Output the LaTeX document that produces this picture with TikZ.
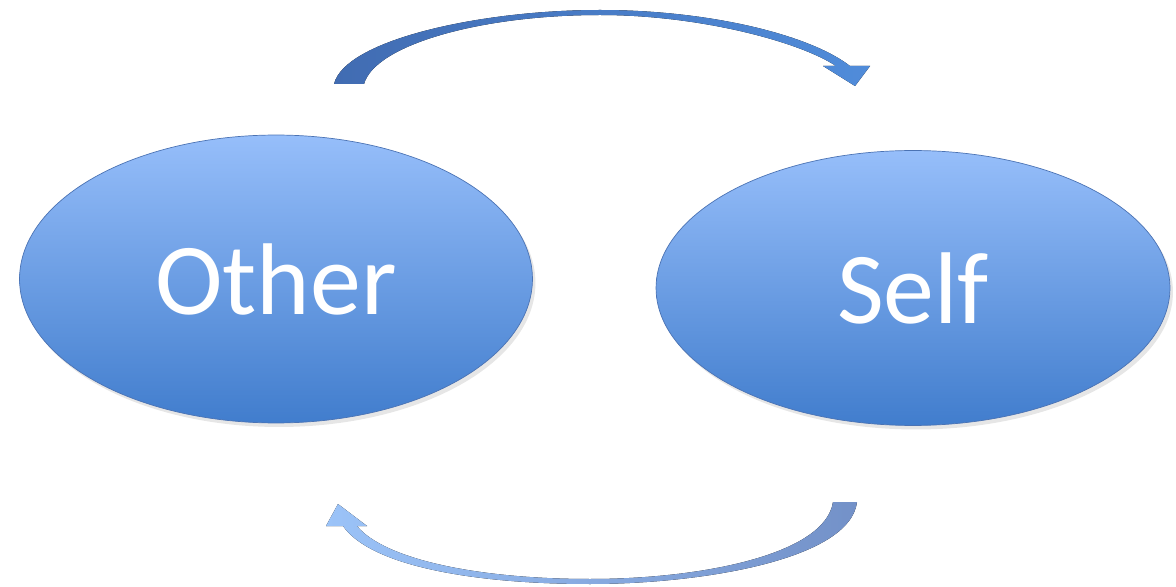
\documentclass[tikz,border=0pt]{standalone}
\usepackage{fontspec}
\setmainfont{Carlito}
\usepackage{tikz}
\usetikzlibrary{shapes.geometric,shadows}
\definecolor{bleuclair}{RGB}{150,190,250}
\definecolor{bleufonce}{RGB}{65,125,205}
\definecolor{bord}{RGB}{75,115,180}
\tikzset{bulle/.style={ellipse, draw=bord, thin, top color=bleuclair, bottom color=bleufonce, inner sep=0pt, text=white, font=\fontsize{58}{60}\selectfont, drop shadow={shadow xshift=0.6mm, shadow yshift=-0.8mm, opacity=0.2}}}

\begin{document}
\begin{tikzpicture}[x=0.02cm, y=-0.02cm]
\useasboundingbox (0,0) rectangle (1176,587);
\node[bulle, minimum width=10.26cm, minimum height=5.76cm] (other) at (276,279) {Other};
\node[bulle, minimum width=10.28cm, minimum height=5.5cm] (self) at (913,288) {Self};
% fleche du haut : de Other vers Self
\fill [left color={rgb,255:red,65;green,108;blue,178}, middle color={rgb,255:red,95;green,145;blue,215}, right color={rgb,255:red,80;green,140;blue,218}]
  (334,84) .. controls (345,40) and (480,10) .. (600,10) .. controls (710,10) and (810,35) .. (850,66)
  -- (870,66) -- (855,86) -- (823,66) -- (836,66)
  .. controls (800,42) and (700,15) .. (600,15) .. controls (480,15) and (375,45) .. (364,84) -- cycle;
% fleche du bas : de Self vers Other
\fill [left color={rgb,255:red,155;green,195;blue,248}, middle color={rgb,255:red,75;green,130;blue,210}, right color={rgb,255:red,115;green,145;blue,200}]
  (857,502) .. controls (850,560) and (700,584) .. (590,584) .. controls (470,584) and (370,565) .. (343,526)
  -- (326,526) -- (338,504) -- (367,526) -- (357,526)
  .. controls (385,560) and (480,579) .. (590,579) .. controls (700,579) and (825,555) .. (833,502) -- cycle;
\end{tikzpicture}
\end{document}
